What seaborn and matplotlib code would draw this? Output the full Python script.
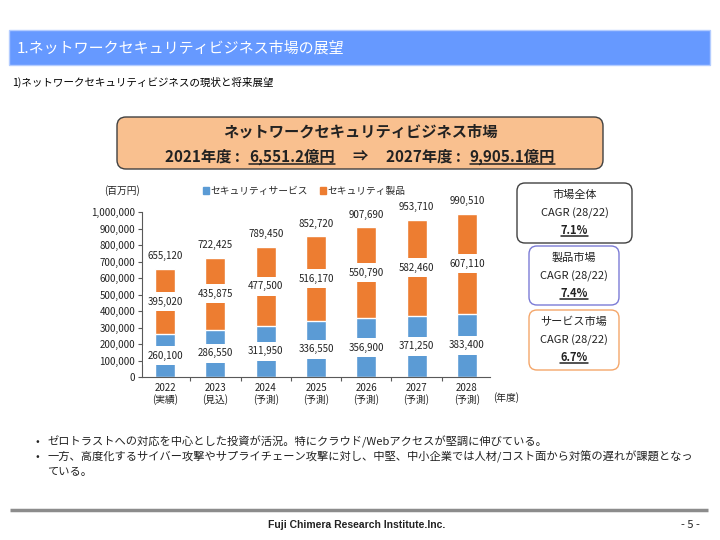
import numpy as np
import pandas as pd
import seaborn as sns
import matplotlib.pyplot as plt
from matplotlib.patches import Rectangle, FancyBboxPatch, Patch
from matplotlib.lines import Line2D

# data
years = ['2022', '2023', '2024', '2025', '2026', '2027', '2028']
year_notes = ['(実績)', '(見込)', '(予測)', '(予測)', '(予測)', '(予測)', '(予測)']
service = np.array([260100, 286550, 311950, 336550, 356900, 371250, 383400])
product = np.array([395020, 435875, 477500, 516170, 550790, 582460, 607110])
total = service + product
yticks = np.arange(0, 1000001, 100000)

cagr_titles = ['市場全体', '製品市場', 'サービス市場']
cagr_values = ['7.1%', '7.4%', '6.7%']
bullet_lines = ['ゼロトラストへの対応を中心とした投資が活況。特にクラウド/Webアクセスが堅調に伸びている。',
                '一方、高度化するサイバー攻撃やサプライチェーン攻撃に対し、中堅、中小企業では人材/コスト面から対策の遅れが課題となっ',
                'ている。']

blue = '#5B9BD5'
orange = '#ED7D31'
dark = '#222222'

sns.set_style('white')
plt.rcParams['font.family'] = ['Noto Sans CJK JP', 'DejaVu Sans']

fig = plt.figure(figsize=(7.2, 5.4), dpi=100)

# background axes in pixel units for the slide decorations
bg = fig.add_axes([0, 0, 1, 1], zorder=0)
bg.set_xlim(0, 720)
bg.set_ylim(540, 0)
bg.axis('off')

# chart
ax = fig.add_axes([142/720, 163/540, 348/720, 165/540], zorder=1)
ax.patch.set_alpha(0)
df = pd.DataFrame({'year': [y + '\n' + n for y, n in zip(years, year_notes)],
                   'service': service, 'product': product, 'total': total})
sns.barplot(data=df, x='year', y='total', color=orange, saturation=1, width=0.4, ax=ax)
sns.barplot(data=df, x='year', y='service', color=blue, saturation=1, width=0.4, ax=ax)

box = dict(boxstyle='square,pad=0.45', fc='white', ec='none')
for i in range(len(years)):
    ax.text(i, service[i] / 2, f'{service[i]:,}', ha='center', va='center',
            fontsize=7, color=dark, bbox=box)
    ax.text(i, service[i] + product[i] / 2, f'{product[i]:,}', ha='center', va='center',
            fontsize=7, color=dark, bbox=box)
    ax.annotate(f'{total[i]:,}', (i, total[i]), xytext=(0, 9), textcoords='offset points',
                ha='center', va='center', fontsize=7, color=dark)

ax.set_xlim(-0.46, 6.46)
ax.set_ylim(0, 1000000)
ax.set_yticks(yticks)
ax.set_yticklabels([f'{v:,}' for v in yticks])
ax.set_xticks(np.arange(0.5, 6, 1), minor=True)
ax.set_xlabel('')
ax.set_ylabel('')
for s in ['top', 'right']:
    ax.spines[s].set_visible(False)
for s in ['left', 'bottom']:
    ax.spines[s].set_color('#595959')
    ax.spines[s].set_linewidth(0.8)
ax.tick_params(axis='y', left=True, length=3, width=0.8, color='#595959',
               labelsize=7, labelcolor=dark, pad=2)
ax.tick_params(axis='x', which='major', length=0, labelsize=7, labelcolor=dark, pad=4)
ax.tick_params(axis='x', which='minor', bottom=True, length=3, width=0.8, color='#595959')
for lab in ax.get_xticklabels():
    lab.set_linespacing(1.15)

fig.legend(handles=[Patch(color=blue, label='セキュリティサービス'),
                    Patch(color=orange, label='セキュリティ製品')],
           loc='center left', bbox_to_anchor=(203/720, 1 - 191/540), ncol=2,
           frameon=False, fontsize=7, handlelength=0.6, handleheight=0.6,
           handletextpad=0.2, columnspacing=1.2, borderpad=0, borderaxespad=0)
bg.text(122, 191, '(百万円)', ha='center', va='center', fontsize=7, color=dark)
bg.text(506, 398, '(年度)', ha='center', va='center', fontsize=7, color=dark)

# title bar
bg.add_patch(Rectangle((9, 30), 701, 35, fc='#6699FF', ec='#B3CCFF', lw=1))
bg.text(17, 48, '1.ネットワークセキュリティビジネス市場の展望', color='white',
        fontsize=10.8, va='center', ha='left')
bg.text(12, 82, '1)ネットワークセキュリティビジネスの現状と将来展望', color='black',
        fontsize=7.6, va='center', ha='left')

# header box
bg.add_patch(FancyBboxPatch((117, 117), 486, 52, boxstyle='round,pad=0,rounding_size=9',
                            fc='#F9C08F', ec='#404040', lw=1))

fig.canvas.draw()
rend = fig.canvas.get_renderer()


def text_row(pieces, xc, y, size, weight='normal'):
    # pieces: (text, underline, gap after in px)
    arts = [bg.text(0, y, s, fontsize=size, fontweight=weight, va='baseline',
                    ha='left', color=dark) for s, u, g in pieces]
    widths = [a.get_window_extent(rend).width for a in arts]
    full = sum(widths) + sum(g for s, u, g in pieces[:-1])
    x = xc - full / 2
    for a, w, (s, u, g) in zip(arts, widths, pieces):
        a.set_x(x)
        if u:
            bg.add_line(Line2D([x, x + w], [y + 2, y + 2], color=dark, lw=1.1))
        x += w + g


text_row([('ネットワークセキュリティビジネス市場', False, 0)], 360, 137, 11, 'bold')
text_row([('2021年度 :', False, 9), ('6,551.2億円', True, 18), ('⇒', False, 18),
          ('2027年度 :', False, 9), ('9,905.1億円', True, 0)], 360, 162, 11, 'bold')

# CAGR boxes
cagr_boxes = [(517, 183, 115, 60, '#404040'), (529, 246, 90, 59, '#7B7BD6'),
              (529, 310, 90, 60, '#F4A66A')]
for (x0, y0, w, h, ec), t, v in zip(cagr_boxes, cagr_titles, cagr_values):
    bg.add_patch(FancyBboxPatch((x0, y0), w, h, boxstyle='round,pad=0,rounding_size=8',
                                fc='white', ec=ec, lw=1))
    xc = x0 + w / 2
    bg.text(xc, y0 + 12, t, ha='center', va='center', fontsize=8, color=dark)
    bg.text(xc, y0 + 30, 'CAGR (28/22)', ha='center', va='center', fontsize=8, color=dark)
    text_row([(v, True, 0)], xc, y0 + 51, 8, 'bold')

# bullets
for yy in [442, 457]:
    bg.text(37, yy, '•', ha='center', va='center', fontsize=8, color=dark)
for yy, line in zip([442, 457, 472], bullet_lines):
    bg.text(47, yy, line, ha='left', va='center', fontsize=8.1, color=dark)

# footer
bg.plot([10, 708], [510, 510], color='#8C8C8C', lw=2.5, solid_capstyle='butt')
bg.text(357, 525, 'Fuji Chimera Research Institute.Inc.', ha='center', va='center',
        fontsize=7.5, fontweight='bold', color=dark,
        family=['Liberation Sans Narrow', 'Liberation Sans', 'DejaVu Sans'])
bg.text(690, 525, '- 5 -', ha='center', va='center', fontsize=8, color=dark)

fig.savefig('out.png', dpi=100)
